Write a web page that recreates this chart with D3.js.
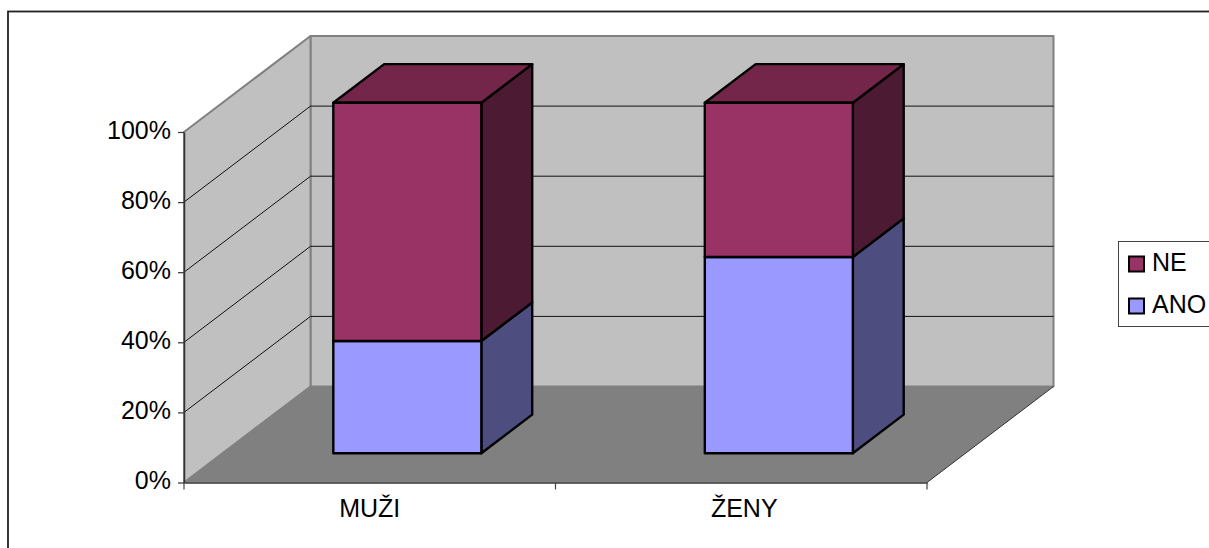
<!DOCTYPE html>
<html>
<head>
<meta charset="utf-8">
<script src="https://cdn.jsdelivr.net/npm/d3@7"></script>
<style>
  html, body { margin: 0; padding: 0; background: #fff; overflow: hidden; }
  svg { display: block; }
  text { font-family: "Liberation Sans", Arial, sans-serif; fill: #000; }
</style>
</head>
<body>
<svg id="chart" width="1209" height="548"></svg>
<script>
let categories = ["MUŽI", "ŽENY"];
let seriesNames = ["ANO", "NE"];
let anoValues = [32, 56];
let neValues = [68, 44];
let yTicks = [0, 20, 40, 60, 80, 100];

let colors = {
    ANO: {front: "#9999ff", top: "#7373bf", side: "#4d4d80"},
    NE: {front: "#993366", top: "#732649", side: "#4d1a33"}
};

let svg = d3.select("#chart");

// outer frame runs off the right and bottom of the picture
svg.append("rect")
    .attr("x", 8)
    .attr("y", 11.5)
    .attr("width", 1300)
    .attr("height", 700)
    .attr("fill", "#fff")
    .attr("stroke", "#222")
    .attr("stroke-width", 1.8);

let x = d3.scaleBand()
    .domain(categories)
    .range([184, 927]);

let y = d3.scaleLinear()
    .domain([0, 100])
    .range([482.5, 132]);

let depthX = 126.5;
let depthY = -96;

// z goes from 0 (front of the floor) to 1 (back wall)
function pt(px, py, z) {
    return [px + z * depthX, py + z * depthY];
}

function face(points, fill, stroke, strokeWidth) {
    svg.append("path")
        .attr("d", d3.line()(points) + "Z")
        .attr("fill", fill)
        .attr("stroke", stroke)
        .attr("stroke-width", strokeWidth)
        .attr("stroke-linejoin", "round");
}

let x0 = x.range()[0];
let x1 = x.range()[1];

// floor, back wall, side wall
face([pt(x0, y(0), 0), pt(x1, y(0), 0), pt(x1, y(0), 1), pt(x0, y(0), 1)], "#808080", "none", 0);
face([pt(x0, y(0), 1), pt(x1, y(0), 1), pt(x1, y(100), 1), pt(x0, y(100), 1)], "#c0c0c0", "#808080", 2);
face([pt(x0, y(0), 0), pt(x0, y(0), 1), pt(x0, y(100), 1), pt(x0, y(100), 0)], "#c0c0c0", "#808080", 2);

// floor edge on the right
svg.append("line")
    .attr("x1", pt(x1, y(0), 0)[0]).attr("y1", pt(x1, y(0), 0)[1])
    .attr("x2", pt(x1, y(0), 1)[0]).attr("y2", pt(x1, y(0), 1)[1])
    .attr("stroke", "#333")
    .attr("stroke-width", 1);

// gridlines
yTicks.filter(d => d > 0 && d < 100).forEach(function(d) {
    let a = pt(x0, y(d), 0), b = pt(x0, y(d), 1), c = pt(x1, y(d), 1);
    svg.append("path")
        .attr("d", d3.line()([a, b, c]))
        .attr("fill", "none")
        .attr("stroke", "#111")
        .attr("stroke-width", 1);
});

// left axis line over the front edge of the side wall
let yAxis = svg.append("g")
    .attr("transform", `translate(${x0}, 0)`)
    .call(d3.axisLeft(y)
        .tickValues(yTicks)
        .tickFormat(d => d + "%")
        .tickSize(6)
        .tickSizeOuter(0)
        .tickPadding(7));
yAxis.select(".domain").attr("stroke", "#333").attr("stroke-width", 1.5);
yAxis.selectAll(".tick line").attr("stroke", "#333").attr("stroke-width", 1.2);
yAxis.selectAll("text")
    .attr("dy", "0.24em")
    .style("font-size", "25px")
    .style("font-family", "Liberation Sans");

let xAxis = svg.append("g")
    .attr("transform", `translate(0, ${y(0)})`)
    .call(d3.axisBottom(x).tickSize(0).tickPadding(17));
xAxis.select(".domain").attr("stroke", "#333").attr("stroke-width", 1.5);
xAxis.selectAll("text")
    .attr("dx", (d, i) => i * 3)
    .style("font-size", "25px")
    .style("font-family", "Liberation Sans");

// tick marks sit at the category boundaries
categories.concat(["end"]).forEach(function(d, i) {
    let tx = x0 + i * x.step();
    svg.append("line")
        .attr("x1", tx).attr("x2", tx)
        .attr("y1", y(0)).attr("y2", y(0) + 7)
        .attr("stroke", "#444")
        .attr("stroke-width", 1.2);
});

// stacked 3d bars
let table = categories.map(function(c, i) {
    return {category: c, ANO: anoValues[i], NE: neValues[i]};
});
let stacked = d3.stack().keys(seriesNames)(table);

let barShare = 0.3985;
let barWidth = x.bandwidth() * barShare;
let barShift = -1;
let zFront = 0.305;
let zBack = 0.707;

stacked.forEach(function(layer) {
    let c = colors[layer.key];
    layer.forEach(function(d) {
        let left = x(d.data.category) + (x.bandwidth() - barWidth) / 2 + barShift;
        let right = left + barWidth;
        let y0 = y(d[0]);
        let y1 = y(d[1]);
        face([pt(right, y0, zFront), pt(right, y0, zBack), pt(right, y1, zBack), pt(right, y1, zFront)], c.side, "#000", 2.4);
        if (d[1] === 100) {
            face([pt(left, y1, zFront), pt(right, y1, zFront), pt(right, y1, zBack), pt(left, y1, zBack)], c.top, "#000", 2.4);
        }
        face([pt(left, y0, zFront), pt(right, y0, zFront), pt(right, y1, zFront), pt(left, y1, zFront)], c.front, "#000", 2.4);
    });
});

// legend, also cut by the right edge
svg.append("rect")
    .attr("x", 1118.5)
    .attr("y", 241.5)
    .attr("width", 120)
    .attr("height", 85)
    .attr("fill", "#fff")
    .attr("stroke", "#444")
    .attr("stroke-width", 1);

let legendNames = seriesNames.slice().reverse();
let legendY = d3.scalePoint().domain(legendNames).range([264, 306]);

legendNames.forEach(function(name) {
    svg.append("rect")
        .attr("x", 1129)
        .attr("y", legendY(name) - 7.5)
        .attr("width", 15)
        .attr("height", 15)
        .attr("fill", colors[name].front)
        .attr("stroke", "#000")
        .attr("stroke-width", 2);
    svg.append("text")
        .attr("x", 1152)
        .attr("y", legendY(name) + 6.5)
        .style("font-size", "25px")
        .text(name);
});
</script>
</body>
</html>
